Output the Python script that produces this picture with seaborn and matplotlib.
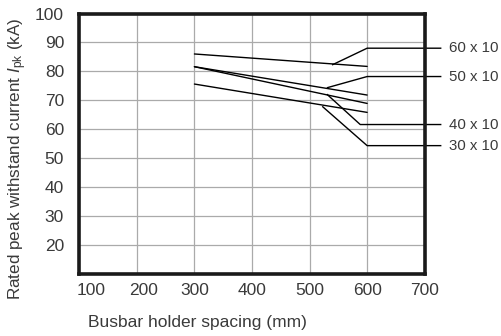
import matplotlib
matplotlib.use("Agg")
import matplotlib.pyplot as plt
import matplotlib.transforms as mtransforms
import seaborn as sns
import pandas as pd

# ---- data ----
spacing = [300, 600]
line_a = [86.0, 81.7]
line_b = [81.6, 71.8]
line_c = [81.6, 68.9]
line_d = [75.6, 65.8]

labels = ["60 x 10", "50 x 10", "40 x 10", "30 x 10"]
leader_x = [[539, 600, 729], [530, 600, 729], [530, 588, 729], [522, 600, 729]]
leader_y = [[82.2, 88.0, 88.0], [74.3, 78.2, 78.2], [72.1, 61.6, 61.6], [67.9, 54.3, 54.3]]

x_ticks = [100, 200, 300, 400, 500, 600, 700]
y_ticks = [20, 30, 40, 50, 60, 70, 80, 90, 100]

sns.set_theme(style="white")
plt.rcParams['font.family'] = ['Liberation Sans', 'DejaVu Sans']
plt.rcParams['mathtext.fontset'] = 'custom'
plt.rcParams['mathtext.rm'] = 'Liberation Sans'
plt.rcParams['mathtext.it'] = 'Liberation Sans:italic'

txt = "#3a3a3a"

rows = []
for name, vals in zip(["A", "B", "C", "D"], [line_a, line_b, line_c, line_d]):
    for x, y in zip(spacing, vals):
        rows.append({"spacing": x, "value": y, "line": name})
df = pd.DataFrame(rows)

fig = plt.figure(figsize=(5.01, 3.36), dpi=100)
ax = fig.add_axes([79.3 / 501, 1 - 274.3 / 336, (424.7 - 79.3) / 501, (274.3 - 13.5) / 336])

sns.lineplot(data=df, x="spacing", y="value", units="line", estimator=None,
             color="black", linewidth=1.0, ax=ax, legend=False)

for lx, ly, lab in zip(leader_x, leader_y, labels):
    ax.plot(lx, ly, color="black", linewidth=1.0, clip_on=False, solid_capstyle="butt")
    ax.text(742, ly[-1], lab, ha="left", va="center", fontsize=10.8, color=txt, clip_on=False)

ax.set_xlim(100, 700)
ax.set_ylim(9.8, 98.9)
ax.set_xticks(x_ticks)
ax.set_yticks(y_ticks)
ax.set_xticklabels([str(t) for t in x_ticks])
ax.set_yticklabels([str(t) for t in y_ticks])
ax.grid(True, color="#aaaaaa", linewidth=0.9)
ax.set_axisbelow(True)
ax.tick_params(axis="both", length=0, labelsize=12.5, labelcolor=txt)
ax.tick_params(axis="y", pad=11)
ax.tick_params(axis="x", pad=6)

for sp in ax.spines.values():
    sp.set_visible(True)
    sp.set_color("#1a1a1a")
    sp.set_linewidth(2.6)

# nudge first x tick labels to the right as in the reference
offs = {0: 12, 1: 7}
for i, lab in enumerate(ax.get_xticklabels()):
    if i in offs:
        lab.set_transform(lab.get_transform() + mtransforms.ScaledTranslation(offs[i] / 100, 0, fig.dpi_scale_trans))

ax.set_xlabel("Busbar holder spacing (mm)", fontsize=12.5, color=txt)
ax.xaxis.set_label_coords(0.342, -0.186)
ax.xaxis.label.set_va("center")
ax.set_ylabel(r"Rated peak withstand current $I_{\mathrm{pk}}$ (kA)", fontsize=12.3, color=txt)
ax.yaxis.set_label_coords(-0.177, 0.442)
ax.yaxis.label.set_va("center")

fig.savefig("out.png", dpi=100)
